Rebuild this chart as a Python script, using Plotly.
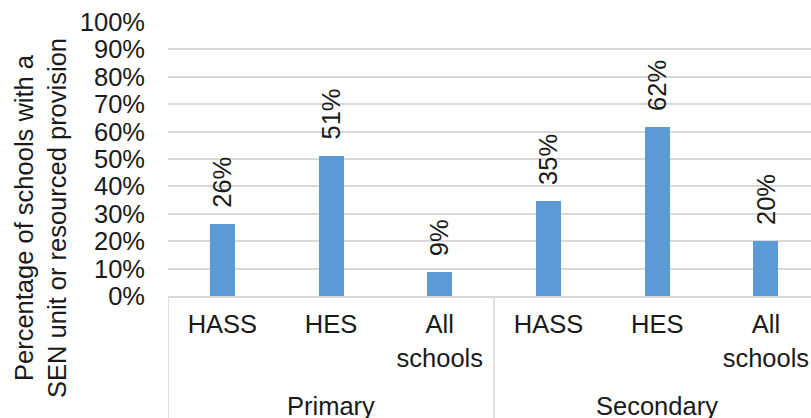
import plotly.graph_objects as go

categories = ["HASS", "HES", "All<br>schools", "HASS", "HES", "All<br>schools"]
groups = ["Primary", "Secondary"]
group_sizes = [3, 3]
values = [26.3, 51.1, 8.8, 34.7, 61.6, 20.2]
labels = ["26%", "51%", "9%", "35%", "62%", "20%"]
y_ticks = list(range(0, 101, 10))
y_title = "Percentage of schools with a<br>SEN unit or resourced provision"

FONT = "Liberation Sans, Arial, sans-serif"
FS = 25.5
TXT = "#1a1a1a"
GRID = "#d9d9d9"
BAR = "#5b9bd5"

x = list(range(len(values)))

fig = go.Figure()
fig.add_trace(go.Bar(x=x, y=values, marker=dict(color=BAR, line=dict(width=0)),
                     width=0.23, hoverinfo="skip"))

annotations = []
for xi, v, lab in zip(x, values, labels):
    annotations.append(dict(x=xi, y=v, xref="x", yref="y", text=lab, textangle=-90,
                            showarrow=False, yanchor="bottom", xanchor="center",
                            yshift=14, font=dict(family=FONT, size=FS, color=TXT)))

shapes = []
start = 0
bounds = [-0.5]
for g, n in zip(groups, group_sizes):
    center = start + (n - 1) / 2
    annotations.append(dict(x=center, y=0, xref="x", yref="paper", text=g,
                            showarrow=False, yanchor="middle", xanchor="center",
                            yshift=-110, font=dict(family=FONT, size=FS, color=TXT)))
    start += n
    bounds.append(start - 0.5)
for b in bounds:
    shapes.append(dict(type="line", xref="x", yref="paper", x0=b, x1=b, y0=0, y1=-0.5,
                       line=dict(color=GRID, width=1.5)))

annotations.append(dict(x=0, y=0.5, xref="paper", yref="paper", text=y_title,
                        textangle=-90, showarrow=False, xanchor="center", yanchor="middle",
                        xshift=-128, yshift=-59,
                        font=dict(family=FONT, size=FS, color=TXT)))

fig.update_layout(
    width=811, height=418,
    margin=dict(l=168, r=0, t=22, b=122),
    paper_bgcolor="white", plot_bgcolor="white",
    showlegend=False,
    bargap=0,
    annotations=annotations,
    shapes=shapes,
    font=dict(family=FONT, size=FS, color=TXT),
    xaxis=dict(range=[-0.5, 5.415], tickmode="array", tickvals=x, ticktext=categories,
               showgrid=False, zeroline=False, showline=True, linecolor=GRID, linewidth=1.5,
               ticks="", ticklabelstandoff=5,
               tickfont=dict(family=FONT, size=FS, color=TXT)),
    yaxis=dict(range=[0, 100], tickmode="array", tickvals=y_ticks,
               ticktext=[f"{t}%" for t in y_ticks],
               showgrid=True, gridcolor=GRID, gridwidth=1.5, zeroline=False,
               showline=False, ticks="", ticklabelstandoff=22,
               tickfont=dict(family=FONT, size=FS, color=TXT)),
)

fig.write_html("out.html")
